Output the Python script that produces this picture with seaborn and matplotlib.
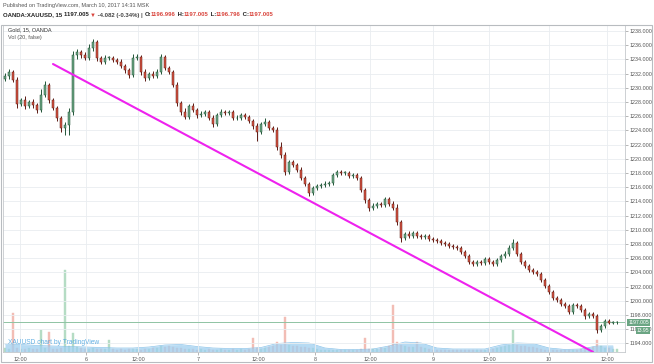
import numpy as np
import pandas as pd
import seaborn as sns
import matplotlib
matplotlib.use("Agg")
import matplotlib.pyplot as plt
from matplotlib.patches import Rectangle

# ---------------- data ----------------
close = [
    1231.7, 1232.2, 1231.1, 1227.7, 1228.3, 1227.4, 1228.0, 1227.6, 1226.9, 1229.0,
    1230.4, 1228.3, 1227.2, 1225.7, 1224.3, 1224.8, 1226.6, 1234.6, 1235.0, 1234.6,
    1234.2, 1235.6, 1236.5, 1234.2, 1233.6, 1234.2, 1234.2, 1233.9, 1233.6, 1233.1,
    1232.5, 1231.8, 1234.2, 1234.3, 1232.2, 1231.4, 1231.9, 1231.7, 1232.2, 1234.3,
    1232.8, 1232.2, 1230.4, 1227.9, 1226.6, 1225.9, 1227.4, 1226.9, 1226.2, 1226.3,
    1226.6, 1225.7, 1224.9, 1226.2, 1226.6, 1226.5, 1226.6, 1225.7, 1225.7, 1226.2,
    1225.9, 1225.3, 1224.6, 1223.8, 1224.9, 1225.2, 1224.3, 1224.1, 1221.7, 1220.5,
    1218.1, 1219.5, 1219.1, 1218.4, 1217.3, 1216.5, 1215.2, 1215.9, 1216.2, 1216.3,
    1216.5, 1216.6, 1217.7, 1218.1, 1218.0, 1218.0, 1217.6, 1217.7, 1217.3, 1215.6,
    1214.2, 1213.1, 1213.4, 1213.6, 1213.5, 1214.3, 1213.6, 1213.1, 1211.1, 1208.8,
    1209.4, 1209.1, 1209.5, 1209.1, 1209.0, 1209.1, 1208.7, 1208.6, 1208.4, 1208.1,
    1208.0, 1207.7, 1207.6, 1207.4, 1206.9, 1206.3, 1205.5, 1205.2, 1205.5, 1205.3,
    1205.9, 1205.5, 1205.2, 1205.7, 1206.3, 1206.6, 1207.4, 1208.1, 1206.6, 1205.5,
    1204.9, 1204.3, 1204.1, 1203.8, 1202.9, 1202.1, 1201.2, 1200.4, 1200.1, 1199.5,
    1199.3, 1198.4, 1199.4, 1199.3, 1198.7, 1197.9, 1198.1, 1197.9, 1195.9, 1196.5,
    1197.2, 1196.9, 1197.0, 1197.005,
]
first_open = 1231.3

upper_wick = [
    0.4, 0.5, 0.3, 0.4, 0.3, 0.5, 0.3, 0.4, 0.3, 0.8, 0.6, 0.3, 0.3, 0.2,
    0.3, 0.4, 0.5, 0.6, 0.5, 0.3, 0.4, 0.6, 0.4, 0.3, 0.3, 0.4, 0.3, 0.3,
    0.3, 0.4, 0.3, 0.3, 0.5, 0.4, 0.3, 0.4, 0.3, 0.4, 0.5, 0.4, 0.3, 0.3,
    0.3, 0.4, 0.3, 0.5, 0.3, 0.4, 0.3, 0.4, 0.3, 0.3, 0.4, 0.3, 0.4, 0.3,
    0.3, 0.3, 0.4, 0.3, 0.3, 0.3, 0.3, 0.4, 0.3, 0.5, 0.3, 0.3, 0.4, 0.6,
    0.4, 0.3, 0.3, 0.3, 0.4, 0.3, 0.3, 0.3, 0.3, 0.3, 0.4, 0.3, 0.3, 0.3,
    0.3, 0.3, 0.3, 0.3, 0.3, 0.3, 0.3, 0.3, 0.4, 0.3, 0.3, 0.3, 0.3, 0.4,
    0.5, 0.3, 0.3, 0.4, 0.3, 0.3, 0.3, 0.3, 0.3, 0.3, 0.3, 0.3, 0.3, 0.3,
    0.3, 0.3, 0.3, 0.3, 0.3, 0.3, 0.3, 0.3, 0.3, 0.3, 0.3, 0.3, 0.3, 0.4,
    0.4, 0.6, 0.3, 0.3, 0.3, 0.3, 0.3, 0.3, 0.3, 0.3, 0.3, 0.3, 0.3, 0.3,
    0.3, 0.3, 0.3, 0.3, 0.3, 0.3, 0.3, 0.3, 0.3, 0.2, 0.3, 0.2, 0.2, 0.2,
]
lower_wick = [
    0.3, 0.4, 0.3, 0.5, 0.3, 0.4, 0.3, 0.5, 0.4, 0.3, 0.3, 0.4, 0.3, 0.4,
    0.5, 1.0, 1.4, 0.4, 0.5, 0.4, 0.3, 0.3, 0.4, 0.4, 0.3, 0.3, 0.3, 0.3,
    0.3, 0.3, 0.4, 0.4, 0.3, 0.3, 0.4, 0.5, 0.3, 0.3, 0.3, 0.3, 0.3, 0.3,
    0.3, 0.4, 0.4, 0.3, 0.3, 0.3, 0.4, 0.3, 0.3, 0.3, 0.4, 0.3, 0.3, 0.3,
    0.3, 0.3, 0.3, 0.3, 0.3, 0.3, 0.4, 1.3, 0.3, 0.3, 0.3, 0.3, 0.4, 0.4,
    0.4, 0.3, 0.3, 0.3, 0.3, 0.4, 0.5, 0.3, 0.3, 0.3, 0.3, 0.3, 0.3, 0.3,
    0.3, 0.3, 0.3, 0.3, 0.3, 0.3, 0.4, 0.4, 0.3, 0.3, 0.3, 0.3, 0.3, 0.3,
    0.4, 0.5, 0.3, 0.3, 0.3, 0.3, 0.3, 0.3, 0.3, 0.3, 0.3, 0.3, 0.3, 0.3,
    0.3, 0.3, 0.3, 0.3, 0.3, 0.3, 0.3, 0.3, 0.3, 0.3, 0.3, 0.3, 0.3, 0.3,
    0.3, 0.3, 0.3, 0.3, 0.3, 0.3, 0.3, 0.3, 0.3, 0.3, 0.3, 0.3, 0.3, 0.3,
    0.3, 0.3, 0.3, 0.3, 0.3, 0.4, 0.3, 0.3, 0.5, 0.3, 0.3, 0.2, 0.2, 0.2,
]

volume = [
    40, 35, 390, 45, 30, 35, 40, 30, 35, 220, 40, 200, 35, 30, 45, 820, 60, 190, 50, 40,
    35, 30, 40, 35, 30, 30, 120, 30, 25, 30, 25, 30, 35, 30, 25, 30, 35, 40, 45, 60,
    55, 60, 50, 45, 40, 35, 30, 30, 25, 30, 25, 30, 25, 25, 30, 25, 25, 30, 25, 30,
    25, 30, 140, 40, 35, 40, 50, 60, 100, 70, 350, 70, 65, 60, 55, 50, 45, 40, 30, 25,
    25, 20, 20, 25, 20, 20, 25, 20, 25, 30, 140, 30, 30, 35, 40, 45, 60, 470, 100, 70,
    60, 55, 50, 100, 50, 40, 30, 25, 25, 25, 25, 20, 20, 25, 20, 25, 20, 20, 25, 25,
    25, 30, 35, 40, 50, 60, 70, 220, 70, 65, 60, 55, 50, 40, 30, 25, 20, 20, 20, 20,
    25, 20, 25, 25, 30, 35, 40, 50, 120, 60, 45, 40, 35, 30,
]
vol_ma_idx = list(range(0, 154, 4))
vol_ma = [
    80, 75, 65, 60, 55, 50, 45, 40, 40, 50, 70, 75, 55, 40, 35, 35, 45, 85, 95, 90,
    40, 25, 25, 30, 60, 100, 90, 40, 30, 30, 30, 70, 90, 85, 40, 25, 30, 60, 60,
]

xtick_pos = [3.75, 20.25, 33.25, 48.25, 63.25, 77.5, 91.25, 107, 121, 136, 150.5]
xtick_labels = ["12:00", "6", "12:00", "7", "12:00", "8", "12:00", "9", "12:00", "10", "12:00"]
ytick_vals = list(range(1194, 1240, 2))
trend_x = [12, 147]
trend_y = [1233.35, 1192.8]
last_price = 1197.005
last_volume_label = "13.95"

# ---------------- style ----------------
sns.set_theme(style="white")
plt.rcParams["font.family"] = ["Liberation Sans", "DejaVu Sans"]

W, H = 654, 364
fig = plt.figure(figsize=(W / 100, H / 100), dpi=100, facecolor="white")
ax = fig.add_axes([3 / W, 12 / H, 622 / W, 327 / H])
ax2 = ax.twinx()

UP_FACE, UP_EDGE = "#6ba583", "#225437"
DN_FACE, DN_EDGE = "#d75442", "#5b1a13"
GRID = "#e9edf0"

n = len(close)
idx = np.arange(n)
opens = [first_open] + close[:-1]
highs = [max(o, c) + u for o, c, u in zip(opens, close, upper_wick)]
lows = [min(o, c) - l for o, c, l in zip(opens, close, lower_wick)]
up = [c >= o for o, c in zip(opens, close)]

df = pd.DataFrame({"i": idx, "open": opens, "close": close, "high": highs,
                   "low": lows, "up": up, "volume": volume})

# volume (behind)
vol_cols = ["#b5dcc4" if u_ else "#f2bdb5" for u_ in df["up"]]
ax2.bar(df["i"], df["volume"], width=0.6, color=vol_cols, edgecolor=vol_cols, linewidth=0.3, zorder=1)
ax2.fill_between(vol_ma_idx, 0, vol_ma, color="#9fcff0", alpha=0.75, linewidth=0, zorder=2)
sns.lineplot(x=vol_ma_idx, y=vol_ma, ax=ax2, color="#8cc4ea", linewidth=0.5, zorder=3)
ax2.set_ylim(0, 3270)
ax2.set_yticks([])
for s in ax2.spines.values():
    s.set_visible(False)

ax.set_zorder(ax2.get_zorder() + 1)
ax.patch.set_visible(False)

# grid
for xp in xtick_pos:
    ax.axvline(xp, color=GRID, linewidth=0.6, zorder=0)
for yv in ytick_vals:
    ax.axhline(yv, color=GRID, linewidth=0.6, zorder=0)

# last price line
ax.axhline(last_price, color="#8fc3a3", linewidth=0.7, zorder=1)

# candles
wick_cols = [UP_EDGE if u_ else DN_EDGE for u_ in df["up"]]
ax.vlines(df["i"], df["low"], df["high"], colors=wick_cols, linewidth=0.7, zorder=3)
body_bottom = np.minimum(df["open"], df["close"])
body_h = np.maximum(np.abs(df["close"] - df["open"]), 0.08)
face_cols = [UP_FACE if u_ else DN_FACE for u_ in df["up"]]
ax.bar(df["i"], body_h, bottom=body_bottom, width=0.6, color=face_cols,
       edgecolor=wick_cols, linewidth=0.35, zorder=4)

# trend line
sns.lineplot(x=trend_x, y=trend_y, ax=ax, color="#ee22ee", linewidth=1.5, zorder=5)

ax.set_xlim(-0.5, 155)
ax.set_ylim(1192.79, 1238.845)

ax.yaxis.tick_right()
ax.set_yticks(ytick_vals)
ax.set_yticklabels([f"{v}.000" for v in ytick_vals])
ax.set_xticks(xtick_pos)
ax.set_xticklabels(xtick_labels)
ax.tick_params(axis="y", which="both", right=True, length=2, width=0.5, color="#999999",
               labelsize=3.9, labelcolor="#555555", pad=1.5)
ax.tick_params(axis="x", which="both", bottom=True, length=2, width=0.5, color="#999999",
               labelsize=3.9, labelcolor="#555555", pad=1.5)
for s in ax.spines.values():
    s.set_color("#c5c9cc")
    s.set_linewidth(0.6)
ax.grid(False)

# inner labels
ax.text(5 / 622, 1 - 5 / 327, "Gold, 15, OANDA", transform=ax.transAxes, fontsize=4,
        color="#333333", va="center", ha="left")
ax.text(5 / 622, 1 - 13 / 327, "Vol (20, false)", transform=ax.transAxes, fontsize=4,
        color="#555555", va="center", ha="left")
ax.text(5 / 622, 9 / 327, "XAUUSD chart by TradingView", transform=ax.transAxes,
        fontsize=4.8, color="#4aa3df", alpha=0.85, va="center", ha="left", zorder=6)

# outer frame
fig.patches.append(Rectangle((1 / W, 2 / H), 651 / W, 337 / H, transform=fig.transFigure,
                             fill=False, edgecolor="#b8bcc0", linewidth=0.8))

# price labels on axis
fig.text(649 / W, 1 - 322 / H, f"{last_price:.3f}", fontsize=3.6, color="white",
         va="center", ha="right", zorder=10,
         bbox=dict(boxstyle="square,pad=0.2", facecolor="#6ba583", edgecolor="none"))
fig.text(649 / W, 1 - 330 / H, last_volume_label, fontsize=3.6, color="white",
         va="center", ha="right", zorder=10,
         bbox=dict(boxstyle="square,pad=0.2", facecolor="#6ba583", edgecolor="none"))

# header
fig.text(3 / W, 1 - 5 / H, "Published on TradingView.com, March 10, 2017 14:31 MSK",
         fontsize=4, color="#555555", va="center", ha="left")

RED = "#d9453d"
DARK = "#222222"
pieces = [
    ("OANDA:XAUUSD, 15 ", DARK), ("1197.005 ", DARK), ("▼", RED),
    (" -4.082 (-0.34%) | ", "#444444"),
    ("O:", DARK), ("1196.996", RED), (" H:", DARK), ("1197.005", RED),
    (" L:", DARK), ("1196.796", RED), (" C:", DARK), ("1197.005", RED),
]
renderer = fig.canvas.get_renderer()
xpx = 3.0
for s, col in pieces:
    t = fig.text(xpx / W, 1 - 15 / H, s, fontsize=4.3, color=col, weight="bold",
                 va="center", ha="left")
    bb = t.get_window_extent(renderer)
    xpx = bb.x1

fig.savefig("out.png", dpi=100, facecolor="white")
